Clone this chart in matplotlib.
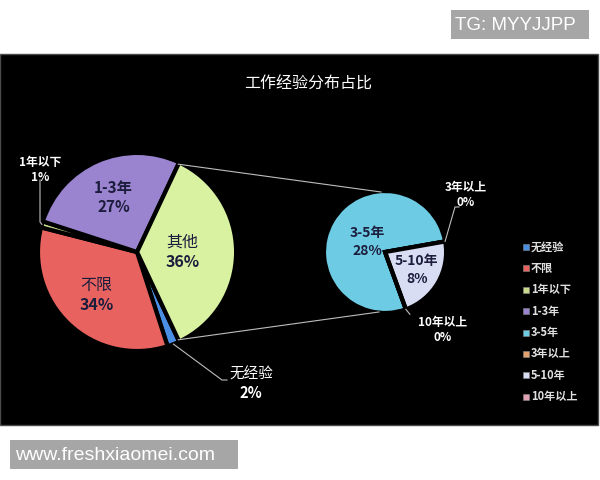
import numpy as np
import matplotlib
matplotlib.use("Agg")
import matplotlib.pyplot as plt
from matplotlib.patches import Rectangle

plt.rcParams['font.family'] = ['Noto Sans CJK SC', 'DejaVu Sans']

# main pie (clockwise order as drawn)
main_labels = ["无经验", "不限", "1年以下", "1-3年", "其他"]
main_values = [2, 34, 1, 27, 36]
main_colors = ["#4a8fe3", "#e8625f", "#c9da8c", "#9a84cf", "#d9f2a2"]

# secondary pie, breakdown of 其他
sub_labels = ["3-5年", "3年以上", "5-10年", "10年以上"]
sub_values = [28, 0, 8, 0]
sub_colors = ["#6dcbe4", "#e3a06f", "#d9ddf3", "#e2a2b4"]

legend_labels = ["无经验", "不限", "1年以下", "1-3年", "3-5年", "3年以上", "5-10年", "10年以上"]
legend_colors = ["#4a8fe3", "#e8625f", "#c9da8c", "#9a84cf", "#6dcbe4", "#e3a06f", "#d9ddf3", "#e2a2b4"]

H = 480


def Y(p):
    # pixel row -> data y
    return H - p


def polar(w, frac, ang=None):
    a = np.deg2rad((w.theta1 + w.theta2) / 2 if ang is None else ang)
    cx, cy = w.center
    return cx + frac * w.r * np.cos(a), cy + frac * w.r * np.sin(a)


fig = plt.figure(figsize=(6, 4.8), dpi=100)
fig.patch.set_facecolor("white")
ax = fig.add_axes([0, 0, 1, 1])

# black chart area
ax.add_patch(Rectangle((0, Y(425)), 598, 371, facecolor="black",
                       edgecolor="#4a4a4a", linewidth=1, zorder=0))

main_wedges, _ = ax.pie(main_values, colors=main_colors,
                        explode=[0.1, 0.05, 0.05, 0.05, 0.1],
                        startangle=-64.8, counterclock=False,
                        center=(137, Y(252)), radius=99, frame=True,
                        wedgeprops=dict(edgecolor="black", linewidth=3))
sub_wedges, _ = ax.pie(sub_values, colors=sub_colors,
                       explode=[0.02, 0, 0.12, 0],
                       startangle=-70, counterclock=False,
                       center=(385, Y(252)), radius=61, frame=True,
                       wedgeprops=dict(edgecolor="black", linewidth=3))

# connector lines between 其他 and the secondary pie
other = main_wedges[4]
sub_c = sub_wedges[0].center
p_top = polar(other, 0.98, max(other.theta1, other.theta2))
p_bot = polar(other, 0.98, min(other.theta1, other.theta2))
ax.plot([p_top[0], sub_c[0] - 4], [p_top[1], sub_c[1] + 60], color="#bdbdbd", lw=0.8, zorder=1)
ax.plot([p_bot[0], sub_c[0] - 6], [p_bot[1], sub_c[1] - 60], color="#bdbdbd", lw=0.8, zorder=1)

dark = "#1c1c3c"


def inner_label(w, frac, name, pct, size, gap, name_bold=True):
    x, y = polar(w, frac)
    ax.text(x, y + gap / 2, name, color=dark, fontsize=size, ha="center", va="center",
            fontweight="bold" if name_bold else "normal")
    ax.text(x, y - gap / 2, pct, color=dark, fontsize=size, ha="center", va="center",
            fontweight="bold")


inner_label(main_wedges[3], 0.6, "1-3年", f"{main_values[3]}%", 11, 19)
inner_label(main_wedges[4], 0.46, "其他", f"{main_values[4]}%", 11.5, 20, name_bold=False)
inner_label(main_wedges[1], 0.6, "不限", f"{main_values[1]}%", 11.5, 20, name_bold=False)
inner_label(sub_wedges[0], 0.33, "3-5年", f"{sub_values[0]}%", 10, 18)
inner_label(sub_wedges[2], 0.6, "5-10年", f"{sub_values[2]}%", 10, 18)


def outer_label(x, y, name, pct, size, gap, name_bold=True):
    ax.text(x, Y(y) + gap / 2, name, color="white", fontsize=size, ha="center", va="center",
            fontweight="bold" if name_bold else "normal")
    ax.text(x, Y(y) - gap / 2, pct, color="white", fontsize=size, ha="center", va="center",
            fontweight="bold")


# 1年以下
outer_label(40, 170, "1年以下", f"{main_values[2]}%", 8.5, 15)
tip = polar(main_wedges[2], 1.0)
ax.plot([40, 40, tip[0]], [Y(180), Y(222), tip[1]], color="#bdbdbd", lw=0.8)

# 无经验
outer_label(251, 384, "无经验", f"{main_values[0]}%", 10.5, 18, name_bold=False)
tip = polar(main_wedges[0], 1.0)
ax.plot([tip[0], 222, 227], [tip[1], Y(380), Y(380)], color="#bdbdbd", lw=0.8)

# 3年以上
outer_label(466, 195, "3年以上", f"{sub_values[1]}%", 8.5, 15)
tip = polar(sub_wedges[1], 1.0)
ax.plot([tip[0], 455, 459], [tip[1], Y(207), Y(207)], color="#bdbdbd", lw=0.8)

# 10年以上
outer_label(443, 330, "10年以上", f"{sub_values[3]}%", 8.5, 15)
tip = polar(sub_wedges[3], 1.0)
ax.plot([tip[0], tip[0] + 4], [tip[1], tip[1] - 5], color="#bdbdbd", lw=0.8)

# title
ax.text(308, Y(84), "工作经验分布占比", color="white", fontsize=11.5, ha="center", va="center")

# legend
for i, (lab, col) in enumerate(zip(legend_labels, legend_colors)):
    yy = Y(247 + i * 21.4)
    ax.add_patch(Rectangle((522.5, yy - 3), 6, 6, facecolor=col, edgecolor="#888888", lw=0.4))
    ax.text(531, yy, lab, color="#e0e0e0", fontsize=8, ha="left", va="center",
            fontweight="bold")

# watermark boxes
ax.add_patch(Rectangle((451, Y(39)), 138, 29, facecolor="#a6a6a6", edgecolor="none"))
ax.text(455, Y(25), "TG: MYYJJPP", color="white", fontsize=13.5, ha="left", va="center",
        family="Liberation Sans")
ax.add_patch(Rectangle((10, Y(469)), 228, 29, facecolor="#a6a6a6", edgecolor="none"))
ax.text(15, Y(455), "www.freshxiaomei.com", color="white", fontsize=14, ha="left", va="center",
        family="Liberation Sans")

ax.set_xlim(0, 600)
ax.set_ylim(0, 480)
ax.set_aspect("auto")
ax.axis("off")

fig.savefig("out.png", dpi=100, facecolor="white")
